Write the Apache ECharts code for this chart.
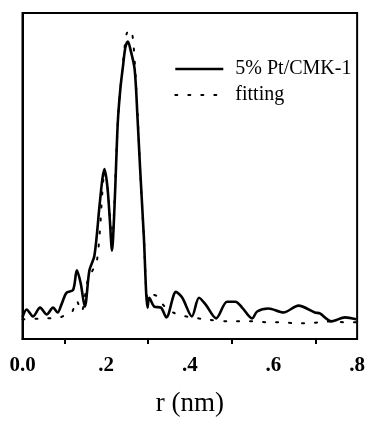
<!DOCTYPE html>
<html>
<head>
<meta charset="utf-8">
<script src="https://cdn.jsdelivr.net/npm/echarts@6/dist/echarts.min.js"></script>
<style>
html,body{margin:0;padding:0;background:#fff;}
#c{width:368px;height:422px;}
</style>
</head>
<body>
<div id="c"></div>
<script>
// r (nm) positions and intensities (arbitrary units) for the measured curve
var sampleR = [0.000,0.010,0.025,0.042,0.058,0.073,0.084,0.093,0.105,0.121,0.130,0.139,0.149,0.160,0.172,0.184,0.191,0.196,0.203,0.209,0.214,0.219,0.224,0.228,0.234,0.240,0.246,0.252,0.258,0.268,0.275,0.281,0.290,0.299,0.303,0.315,0.331,0.344,0.367,0.382,0.405,0.422,0.438,0.463,0.489,0.509,0.525,0.549,0.561,0.588,0.624,0.660,0.699,0.711,0.739,0.771,0.798];
var sampleVal = [22,30,23,32,25,32,27,35,47,50,70,57,33,70,85,135,163,173,155,120,90,125,180,222,255,277,297,303,295,275,225,175,105,32,42,33,32,22,48,42,23,42,35,21,38,38,32,21,28,31,27,34,27,26,18,22,20];
// fitting curve
var fitR = [0.000,0.053,0.090,0.108,0.119,0.129,0.141,0.156,0.170,0.178,0.185,0.191,0.196,0.203,0.209,0.214,0.219,0.224,0.230,0.240,0.249,0.258,0.265,0.275,0.281,0.290,0.300,0.311,0.320,0.340,0.360,0.379,0.406,0.438,0.495,0.533,0.557,0.588,0.620,0.652,0.680,0.711,0.742,0.771,0.798];
var fitVal = [20,21,22,26,28,39,28,60,72,80,110,150,170,155,125,100,130,185,235,280,311,315,302,230,175,105,40,45,44,33,27,24,22,20,18,18,18,17,17,16,16,17,18,17,17];
var xTicks = [0,0.2,0.4,0.6,0.8];
var xTickLabels = ['0.0','.2','.4','.6','.8'];
var seriesNames = ['5% Pt/CMK-1','fitting'];

function pairs(xs, ys){ return xs.map(function(x,i){return [x, ys[i]];}); }

var chart = echarts.init(document.getElementById('c'), null, {renderer:'canvas'});
chart.setOption({
  backgroundColor:'#fff',
  animation:false,
  grid:{left:22.5,right:9,top:13,bottom:77,show:true,borderColor:'#000',borderWidth:2,backgroundColor:'transparent'},
  legend:{
    orient:'vertical', left:169, top:54,
    itemWidth:48, itemHeight:14, itemGap:6,
    itemStyle:{opacity:0},
    lineStyle:{width:2.6},
    textStyle:{fontFamily:'Liberation Serif',fontSize:20,color:'#000',lineHeight:20,padding:[0,0,0,7]},
    data:[{name:seriesNames[0]},{name:seriesNames[1],lineStyle:{width:2}}]
  },
  xAxis:{
    type:'value', min:0, max:0.8, interval:0.2,
    name:'r (nm)', nameLocation:'middle', nameGap:51,
    nameTextStyle:{fontFamily:'Liberation Serif',fontSize:27,color:'#000'},
    axisLine:{show:true,lineStyle:{color:'#000',width:2}},
    axisTick:{show:false},
    minorTick:{show:true,splitNumber:2,length:5,lineStyle:{color:'#000',width:2}},
    splitLine:{show:false},
    axisLabel:{margin:16,fontFamily:'Liberation Serif',fontSize:21,fontWeight:'bold',color:'#000',
      formatter:function(v){var i=xTicks.findIndex(function(t){return Math.abs(t-v)<1e-6;});return i>=0?xTickLabels[i]:'';}}
  },
  yAxis:{
    type:'value', min:0, max:332,
    axisLine:{show:true,lineStyle:{color:'#000',width:2}},
    axisTick:{show:false}, axisLabel:{show:false}, splitLine:{show:false}
  },
  series:[
    {name:seriesNames[0],type:'line',data:pairs(sampleR,sampleVal),smooth:0.3,symbol:'none',
     lineStyle:{color:'#000',width:2.6},itemStyle:{color:'#000'},z:3},
    {name:seriesNames[1],type:'line',data:pairs(fitR,fitVal),smooth:0.3,symbol:'none',
     lineStyle:{color:'#000',width:2,type:[2,11],cap:'round'},itemStyle:{color:'#000'},z:2}
  ]
});
</script>
</body>
</html>
